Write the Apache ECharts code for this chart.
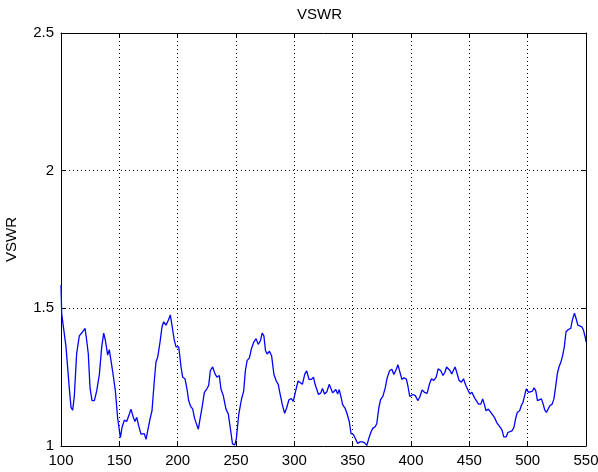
<!DOCTYPE html>
<html>
<head>
<meta charset="utf-8">
<script src="https://cdn.jsdelivr.net/npm/echarts@6/dist/echarts.min.js"></script>
<style>
html,body{margin:0;padding:0;background:#fff;}
#chart{width:598px;height:472px;}
</style>
</head>
<body>
<div id="chart"></div>
<script>
const titleText = 'VSWR';
const yName = 'VSWR';
const xTicks = [100, 150, 200, 250, 300, 350, 400, 450, 500, 550];
const yTicks = [1, 1.5, 2, 2.5];

const freq = [100, 100.6, 104.3, 107.1, 108.6, 110, 111.4, 113.4, 115.7, 118.6, 120.6, 122, 123.4, 124.9, 126.6, 128.6, 130.6, 132.9, 134.9, 136.6, 138, 140, 141.4, 142.9, 144.3, 146.6, 148.6, 150.9, 152.3, 154.3, 156.3, 158.6, 160, 162, 163.4, 164.9, 166.6, 168.6, 170, 171.4, 172.9, 174.3, 176.3, 178, 180, 181.4, 182.9, 184.9, 186.6, 188, 190, 192, 193.7, 195.1, 197.1, 198.6, 200.9, 202.9, 204.3, 206.3, 208, 209.4, 210.9, 212.9, 214.3, 215.7, 217.7, 219.1, 220.9, 222.9, 224.9, 226.6, 228, 230, 232, 233.7, 235.7, 237.1, 239.1, 241.4, 243.4, 245.3, 247, 249, 250.3,
252.3, 254.6, 256.6, 258, 259.5, 261.5, 263.2, 265.2, 267.2, 269, 271, 272.4, 273.9, 275.3, 276.7, 278.7, 280.5, 282.5, 284.5, 286.2, 287.6, 289.7, 291.7, 293.4, 295.4, 297.4, 299.1, 301.1, 303.2, 304.9, 306.9, 308.9, 310.6, 312.6, 314.7, 316.4, 317.8, 319, 320.7, 322.7, 324.1, 325.9, 327.9, 329.9, 331.3, 332.8, 334.2, 335.6, 337.1, 338.5, 339.9, 341.4, 343.4, 345.1, 347.1, 348.6, 350.6, 352.3, 354.3, 356.3, 358.1, 360.1, 362.1, 363.8, 365.8, 367.2, 369.3, 370.7, 372.4, 373.9, 375.9, 377.9, 379.6, 381.6, 383.6, 385.3, 387.4, 388.8, 390.2, 392.2, 394, 396, 397.4, 398.9, 400.3,
401.7, 403.7, 405.8, 407.5, 409.5, 411.5, 413.8, 415.9, 417.6, 419.6, 421.6, 423.3, 425.4, 427.4, 429.1, 430.5, 432, 433.4, 434.9, 436.3, 437.8, 439.2, 441.2, 443.2, 445, 447, 448.4, 450.4, 452.2, 453.6, 455, 456.5, 457.9, 459.9, 461.4, 462.8, 464.3, 466.3, 468, 469.5, 471.5, 473.5, 475.2, 476.7, 478.1, 479.5, 481.6, 483, 484.4, 486.5, 488.2, 489.6, 491.1, 493.1, 494.5, 496, 497.4, 498.8, 500.9, 502.6, 504, 505.5, 506.9, 508.4, 509.8, 511.8, 513.3, 514.7, 516.1, 517.6, 519, 521, 522.5, 523.9, 525.4, 526.8, 528.5, 530, 531.4, 532.9, 534.9, 536.9, 538.3, 540.1, 541.5, 543, 544.4, 546.4, 547.8, 549.3, 550];

const vswr = [1.585, 1.48, 1.36, 1.21, 1.14, 1.13, 1.18, 1.335, 1.40, 1.415, 1.427, 1.384, 1.335, 1.21, 1.165, 1.165, 1.20, 1.26, 1.36, 1.41, 1.385, 1.33, 1.35, 1.35, 1.27, 1.20, 1.10, 1.03, 1.067, 1.094, 1.089, 1.116, 1.134, 1.104, 1.089, 1.104, 1.073, 1.043, 1.037, 1.045, 1.024, 1.055, 1.098, 1.128, 1.238, 1.305, 1.323, 1.378, 1.433, 1.451, 1.439, 1.457, 1.476, 1.439, 1.384, 1.36, 1.36, 1.287, 1.25, 1.244, 1.207, 1.165, 1.146, 1.134, 1.104, 1.085, 1.061, 1.067, 1.14, 1.195, 1.207, 1.22, 1.274, 1.287, 1.262, 1.25, 1.256, 1.207, 1.183, 1.134, 1.116, 1.06, 1.008, 1.004, 1.027,
1.113, 1.168, 1.2, 1.273, 1.31, 1.32, 1.353, 1.377, 1.39, 1.369, 1.383, 1.41, 1.40, 1.346, 1.334, 1.344, 1.328, 1.26, 1.236, 1.224, 1.193, 1.15, 1.119, 1.138, 1.168, 1.172, 1.162, 1.199, 1.236, 1.242, 1.224, 1.26, 1.273, 1.242, 1.242, 1.25, 1.224, 1.23, 1.187, 1.193, 1.209, 1.189, 1.197, 1.224, 1.217, 1.193, 1.199, 1.205, 1.189, 1.205, 1.18, 1.15, 1.138, 1.119, 1.088, 1.045, 1.042, 1.027, 1.009, 1.015, 1.015, 1.012, 1.002, 1.027, 1.052, 1.064, 1.07, 1.082, 1.138, 1.168, 1.18, 1.211, 1.248, 1.273, 1.279, 1.26, 1.279, 1.295, 1.273, 1.242, 1.248, 1.243, 1.217, 1.18, 1.174,
1.187, 1.183, 1.165, 1.177, 1.204, 1.195, 1.191, 1.226, 1.244, 1.238, 1.25, 1.28, 1.274, 1.256, 1.268, 1.287, 1.293, 1.274, 1.262, 1.274, 1.287, 1.268, 1.238, 1.232, 1.244, 1.22, 1.213, 1.189, 1.195, 1.183, 1.171, 1.177, 1.152, 1.152, 1.171, 1.152, 1.128, 1.134, 1.14, 1.116, 1.104, 1.085, 1.085, 1.067, 1.057, 1.033, 1.033, 1.049, 1.051, 1.055, 1.067, 1.098, 1.122, 1.128, 1.146, 1.159, 1.183, 1.207, 1.195, 1.201, 1.199, 1.211, 1.201, 1.165, 1.159, 1.171, 1.152, 1.13, 1.122, 1.128, 1.146, 1.152, 1.171, 1.213, 1.262, 1.287, 1.305, 1.329, 1.36, 1.415, 1.423, 1.427, 1.457, 1.482, 1.463, 1.439, 1.435, 1.433, 1.421, 1.396, 1.378];

const points = freq.map((f, i) => [f, vswr[i]]);
const xMin = xTicks[0], xMax = xTicks[xTicks.length - 1];
const yMin = yTicks[0], yMax = yTicks[yTicks.length - 1];
const xStep = xTicks[1] - xTicks[0];
const yStep = yTicks[1] - yTicks[0];
const fontFam = 'Liberation Sans, Arial, sans-serif';

const chart = echarts.init(document.getElementById('chart'), null, {renderer: 'canvas'});
const axisLineStyle = {show: true, onZero: false, lineStyle: {color: '#000', width: 1}};
const splitLineStyle = {show: true, lineStyle: {color: '#000', width: 1, type: [1, 3]}};
chart.setOption({
  backgroundColor: '#fff',
  animation: false,
  title: {
    text: titleText,
    left: 297,
    top: 7,
    padding: 0,
    textStyle: {fontFamily: fontFam, fontSize: 15, fontWeight: 'normal', color: '#000'}
  },
  grid: {left: 61, right: 12, top: 33, bottom: 26, containLabel: false, outerBoundsMode: 'none'},
  xAxis: [
    {
      type: 'value', position: 'bottom', min: xMin, max: xMax, interval: xStep,
      axisLine: axisLineStyle,
      axisTick: {show: true, inside: true, length: 5, lineStyle: {color: '#000'}},
      axisLabel: {show: true, margin: 7, color: '#000', fontFamily: fontFam, fontSize: 15},
      splitLine: splitLineStyle
    },
    {
      type: 'value', position: 'top', min: xMin, max: xMax, interval: xStep,
      axisLine: axisLineStyle,
      axisTick: {show: true, inside: true, length: 5, lineStyle: {color: '#000'}},
      axisLabel: {show: false},
      splitLine: {show: false}
    }
  ],
  yAxis: [
    {
      type: 'value', position: 'left', min: yMin, max: yMax, interval: yStep,
      name: yName, nameLocation: 'middle', nameGap: 42,
      nameTextStyle: {fontFamily: fontFam, fontSize: 15, color: '#000'},
      axisLine: axisLineStyle,
      axisTick: {show: true, inside: true, length: 5, lineStyle: {color: '#000'}},
      axisLabel: {show: true, margin: 7, color: '#000', fontFamily: fontFam, fontSize: 15},
      splitLine: splitLineStyle
    },
    {
      type: 'value', position: 'right', min: yMin, max: yMax, interval: yStep,
      axisLine: axisLineStyle,
      axisTick: {show: true, inside: true, length: 5, lineStyle: {color: '#000'}},
      axisLabel: {show: false},
      splitLine: {show: false}
    }
  ],
  series: [{
    type: 'line',
    xAxisIndex: 0,
    yAxisIndex: 0,
    data: points,
    showSymbol: false,
    smooth: false,
    lineStyle: {color: '#0000ff', width: 1.3},
    itemStyle: {color: '#0000ff'}
  }]
});
</script>
</body>
</html>
